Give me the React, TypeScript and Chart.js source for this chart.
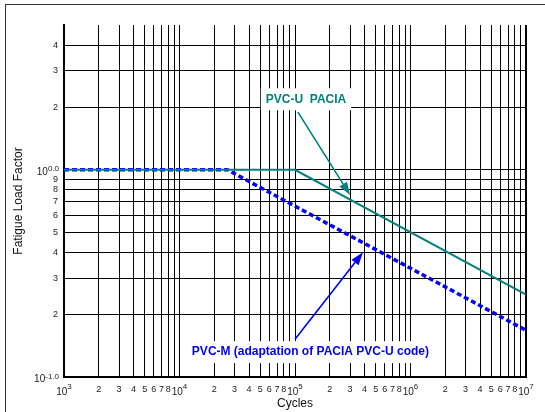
import { useEffect, useRef } from 'react';
import { Chart, registerables } from 'chart.js';

Chart.register(...registerables);

// ---- data ----
const tickMantissas = [1, 2, 3, 4, 5, 6, 7, 8, 9];
const cycleDecades = [3, 4, 5, 6];
const cycleMax = 1e7;
const factorDecades = [-1, 0];
const factorUpperTicks = [1, 2, 3, 4];
const factorMin = 0.1;
const factorMax = 5;

const pvcuCycles = [1e3, 1e5, 1e7];
const pvcuFactor = [1, 1, 0.25];
const pvcmCycles = [1e3, 2.6e4, 1e7];
const pvcmFactor = [1, 1, 0.168];

const pvcuLabel = 'PVC-U  PACIA';
const pvcuLabelAt = [1.245e5, 2.19];
const pvcuArrowFrom = [1.06e5, 1.9];
const pvcuArrowTo = [3.0e5, 0.755];

const pvcmLabel = 'PVC-M (adaptation of PACIA PVC-U code)';
const pvcmLabelAt = [1.36e5, 0.1318];
const pvcmArrowFrom = [1.0e5, 0.152];
const pvcmArrowTo = [3.88e5, 0.40];

const xTitle = 'Cycles';
const yTitle = 'Fatigue Load Factor';

const TEAL = '#008080';
const BLUE = '#0000ff';
const FONT = '"Liberation Sans", Arial, sans-serif';

const xTicks: number[] = [];
cycleDecades.forEach((d) => tickMantissas.forEach((m) => xTicks.push(m * Math.pow(10, d))));
xTicks.push(cycleMax);
const yTicks: number[] = [];
factorDecades.forEach((d) => {
  if (d < 0) tickMantissas.forEach((m) => yTicks.push(+(m * Math.pow(10, d)).toFixed(3)));
});
factorUpperTicks.forEach((v) => yTicks.push(v));

const isDecade = (v: number) => {
  const l = Math.log10(v);
  return Math.abs(l - Math.round(l)) < 1e-6;
};
const mantissa = (v: number) => Math.round(v / Math.pow(10, Math.floor(Math.log10(v) + 1e-9)));

function drawArrow(ctx: CanvasRenderingContext2D, x1: number, y1: number, x2: number, y2: number, color: string, lw: number) {
  const ang = Math.atan2(y2 - y1, x2 - x1);
  const len = 13;
  const hw = 4.5;
  const bx = x2 - len * Math.cos(ang);
  const by = y2 - len * Math.sin(ang);
  ctx.save();
  ctx.strokeStyle = color;
  ctx.fillStyle = color;
  ctx.lineWidth = lw;
  ctx.beginPath();
  ctx.moveTo(x1, y1);
  ctx.lineTo(bx, by);
  ctx.stroke();
  ctx.beginPath();
  ctx.moveTo(x2, y2);
  ctx.lineTo(bx + hw * Math.sin(ang), by - hw * Math.cos(ang));
  ctx.lineTo(bx - hw * Math.sin(ang), by + hw * Math.cos(ang));
  ctx.closePath();
  ctx.fill();
  ctx.restore();
}

function drawBoxedText(ctx: CanvasRenderingContext2D, text: string, cx: number, cy: number, color: string, padX: number, padY: number) {
  ctx.save();
  ctx.font = `bold 12px ${FONT}`;
  const w = ctx.measureText(text).width;
  ctx.fillStyle = '#ffffff';
  ctx.fillRect(cx - w / 2 - padX, cy - 6 - padY, w + 2 * padX, 12 + 2 * padY);
  ctx.fillStyle = color;
  ctx.textAlign = 'center';
  ctx.textBaseline = 'middle';
  ctx.fillText(text, cx, cy);
  ctx.restore();
}

const annotations = {
  id: 'annotations',
  afterDatasetsDraw(chart: any) {
    const { ctx } = chart;
    const x = chart.scales.x;
    const y = chart.scales.y;
    const px = (v: number) => x.getPixelForValue(v);
    const py = (v: number) => y.getPixelForValue(v);
    drawBoxedText(ctx, pvcuLabel, px(pvcuLabelAt[0]), py(pvcuLabelAt[1]), TEAL, 5, 5);
    drawArrow(ctx, px(pvcuArrowFrom[0]), py(pvcuArrowFrom[1]), px(pvcuArrowTo[0]), py(pvcuArrowTo[1]), TEAL, 1.6);
    drawBoxedText(ctx, pvcmLabel, px(pvcmLabelAt[0]), py(pvcmLabelAt[1]), BLUE, 6, 5);
    drawArrow(ctx, px(pvcmArrowFrom[0]), py(pvcmArrowFrom[1]), px(pvcmArrowTo[0]), py(pvcmArrowTo[1]), BLUE, 1.6);
  },
  afterDraw(chart: any) {
    const { ctx } = chart;
    const x = chart.scales.x;
    const y = chart.scales.y;
    const area = chart.chartArea;
    ctx.save();
    ctx.fillStyle = '#222';
    ctx.textBaseline = 'alphabetic';
    ctx.textAlign = 'left';
    const big = `10px ${FONT}`;
    const small = `8px ${FONT}`;
    // x decade labels
    [...cycleDecades, Math.round(Math.log10(cycleMax))].forEach((d) => {
      const p = x.getPixelForValue(Math.pow(10, d));
      ctx.font = big;
      const w1 = ctx.measureText('10').width;
      ctx.font = small;
      const sup = String(d);
      const w2 = ctx.measureText(sup).width;
      const sx = p - (w1 + w2) / 2;
      ctx.font = big;
      ctx.fillText('10', sx, area.bottom + 18);
      ctx.font = small;
      ctx.fillText(sup, sx + w1, area.bottom + 12);
    });
    // y decade labels
    factorDecades.forEach((d) => {
      const p = y.getPixelForValue(Math.pow(10, d));
      const sup = d.toFixed(1);
      ctx.font = small;
      const w2 = ctx.measureText(sup).width;
      ctx.font = big;
      const w1 = ctx.measureText('10').width;
      const right = area.left - 5;
      ctx.fillText('10', right - w2 - w1, p + 5);
      ctx.font = small;
      ctx.fillText(sup, right - w2, p + 1.5);
    });
    ctx.restore();
  },
};

export default function App() {
  const ref = useRef<HTMLCanvasElement | null>(null);
  useEffect(() => {
    document.body.style.margin = '0';
    document.body.style.overflow = 'hidden';
    const canvas = ref.current;
    if (!canvas) return;
    const chart = new Chart(canvas, {
      type: 'scatter',
      data: {
        datasets: [
          {
            label: 'PVC-U PACIA',
            data: pvcuCycles.map((c, i) => ({ x: c, y: pvcuFactor[i] })),
            showLine: true,
            borderColor: TEAL,
            borderWidth: 2,
            pointRadius: 0,
            fill: false,
          },
          {
            label: 'PVC-M',
            data: pvcmCycles.map((c, i) => ({ x: c, y: pvcmFactor[i] })),
            showLine: true,
            borderColor: BLUE,
            borderWidth: 3.5,
            borderDash: [5, 3],
            pointRadius: 0,
            fill: false,
          },
        ],
      },
      options: {
        animation: false,
        responsive: false,
        events: [],
        layout: { padding: { left: 0, top: 25, right: 19, bottom: 0 } },
        plugins: { legend: { display: false }, tooltip: { enabled: false } },
        scales: {
          x: {
            type: 'logarithmic',
            min: 1e3,
            max: cycleMax,
            afterBuildTicks: (s: any) => {
              s.ticks = xTicks.map((v) => ({ value: v }));
            },
            afterFit: (s: any) => {
              s.height = 35;
            },
            grid: {
              color: '#000',
              lineWidth: (c: any) => (c.tick && c.tick.value === cycleMax ? 2 : 1),
              drawTicks: false,
            },
            border: { display: true, color: '#000', width: 2 },
            ticks: {
              autoSkip: false,
              maxRotation: 0,
              padding: 7,
              color: '#222',
              font: { family: FONT, size: 9 },
              callback: (v: any) => {
                const n = Number(v);
                if (isDecade(n)) return '';
                const m = mantissa(n);
                return m === 9 ? '' : String(m);
              },
            },
            title: {
              display: true,
              text: xTitle,
              color: '#111',
              font: { family: FONT, size: 12 },
              padding: { top: 0, bottom: 1 },
            },
          },
          y: {
            type: 'logarithmic',
            min: factorMin,
            max: factorMax,
            afterBuildTicks: (s: any) => {
              s.ticks = yTicks.map((v) => ({ value: v }));
            },
            afterFit: (s: any) => {
              s.width = 64;
            },
            grid: { color: '#000', lineWidth: 1, drawTicks: false },
            border: { display: true, color: '#000', width: 2 },
            ticks: {
              autoSkip: false,
              padding: 6,
              color: '#222',
              font: { family: FONT, size: 9 },
              callback: (v: any) => {
                const n = Number(v);
                if (isDecade(n)) return '';
                return String(mantissa(n));
              },
            },
            title: {
              display: true,
              text: yTitle,
              color: '#111',
              font: { family: FONT, size: 12 },
              padding: { top: 11, bottom: 0 },
            },
          },
        },
      },
      plugins: [annotations],
    });
    return () => chart.destroy();
  }, []);

  return (
    <div style={{ position: 'fixed', left: 0, top: 0, width: 545, height: 412, overflow: 'hidden', background: '#fff' }}>
      <div
        style={{
          position: 'absolute',
          left: 5,
          top: 4,
          width: 700,
          height: 700,
          border: '1px solid #333',
          boxSizing: 'border-box',
        }}
      />
      <canvas ref={ref} width={545} height={412} style={{ position: 'absolute', left: 0, top: 0 }} />
    </div>
  );
}
